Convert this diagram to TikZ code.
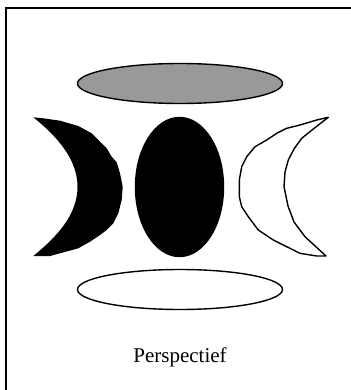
\documentclass[tikz,border=0pt]{standalone}
\usepackage{fontspec}
\setmainfont{Liberation Serif}
\usetikzlibrary{shapes.geometric}

\begin{document}
\begin{tikzpicture}[x=1pt, y=-1pt,
    disc/.style={ellipse, draw, line width=1.4pt, inner sep=0pt},
    moon/.style={line width=1.4pt, line join=round}]
  \useasboundingbox (0,0) rectangle (350,390);
  % frame, cut off at the right and bottom
  \draw[line width=2pt] (6,391) -- (6,8) -- (351,8);

  \node[disc, fill={rgb,255:red,153;green,153;blue,153},
    minimum width=205pt, minimum height=40pt] (top) at (180,83.5) {};
  \node[disc, fill=black, minimum width=88pt, minimum height=139pt] (mid) at (179.5,187) {};
  \node[disc, fill=white, minimum width=205pt, minimum height=40pt] (bot) at (180,289.5) {};

  % dark crescent
  \fill[black] (33.3,117.3) -- (43.3,118.3) -- (60,120.7) -- (78.3,126) -- (91.7,133.3)
    -- (100,141.7) -- (106.7,148.3) -- (111.7,156.7) -- (116.7,162.3) -- (120,173.3)
    -- (122.7,186.7) -- (121.7,200) -- (118.3,213.3) -- (113.3,223.3) -- (106.7,230)
    -- (100,235) -- (90,241.7) -- (78.3,248.3) -- (60,253.3) -- (50,256) -- (33.3,256)
    .. controls (58,236) and (77.5,214) .. (77.5,186.7)
    .. controls (77.5,160) and (58,137) .. cycle;

  % light crescent
  \draw[moon, fill=white] (328.3,117.3) -- (316.7,120) -- (300,125) -- (286.7,128.3)
    -- (276.7,133.3) -- (266.7,140) -- (255,146.7) -- (246.7,156.7) -- (241.7,166.7)
    -- (239.3,180) -- (239.3,196.7) -- (241.7,206.7) -- (248.3,216.7) -- (258.3,230)
    -- (273.3,240) -- (286.7,246.7) -- (300,253.3) -- (316.7,256) -- (326,256)
    -- (305,236.7) -- (294,222) -- (288,206) -- (284,186.7) -- (285,172) -- (288.3,160)
    -- (294,149) -- (301.7,138.3) -- (312,130) -- cycle;

  \node[font=\fontsize{21}{24}\selectfont, anchor=base] (label) at (180,362) {Perspectief};
\end{tikzpicture}
\end{document}
